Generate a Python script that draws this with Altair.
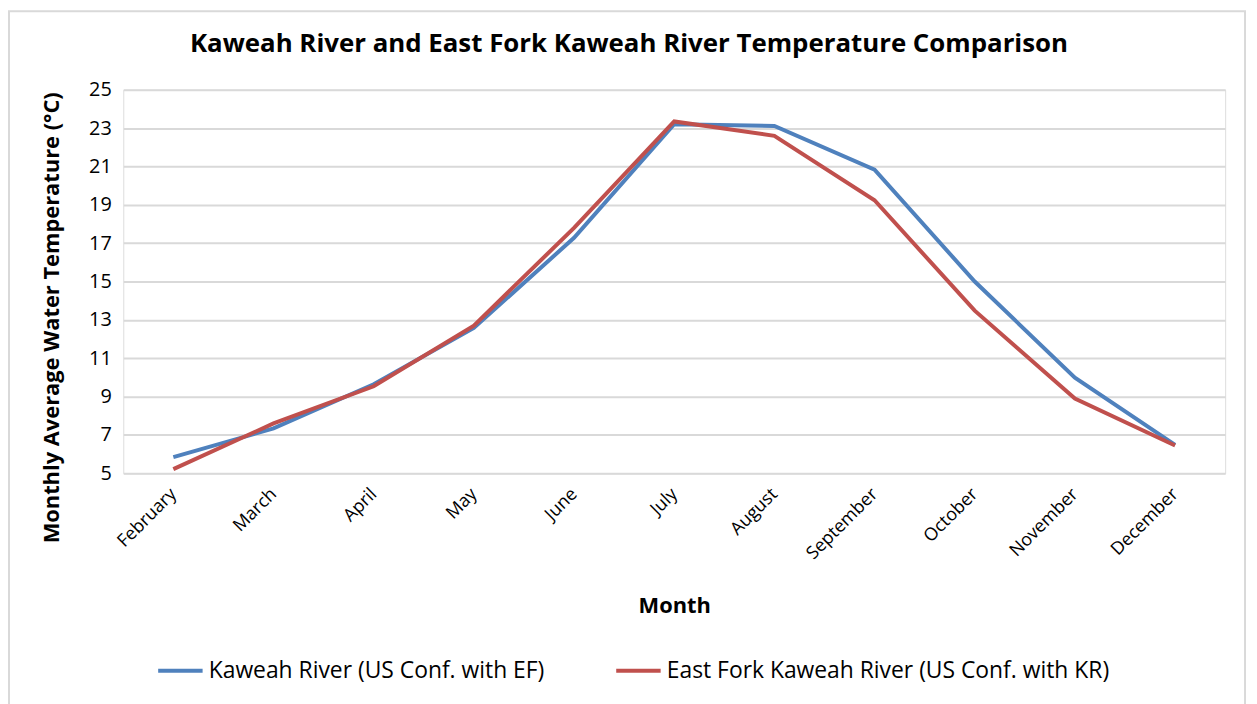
import altair as alt
import pandas as pd

months = ["February", "March", "April", "May", "June", "July", "August",
          "September", "October", "November", "December"]
kaweah = [5.84, 7.34, 9.64, 12.58, 17.28, 23.2, 23.11, 20.83, 15.0, 9.99, 6.48]
east_fork = [5.22, 7.6, 9.54, 12.7, 17.8, 23.35, 22.6, 19.24, 13.48, 8.9, 6.45]
series_names = ["Kaweah River (US Conf. with EF)", "East Fork Kaweah River (US Conf. with KR)"]
colors = ["#4F81BD", "#C0504D"]
y_ticks = [5, 7, 9, 11, 13, 15, 17, 19, 21, 23, 25]
title_text = "Kaweah River and East Fork Kaweah River Temperature Comparison"

rows = []
for m, a, b in zip(months, kaweah, east_fork):
    rows.append({"Month": m, "Series": series_names[0], "Temp": a})
    rows.append({"Month": m, "Series": series_names[1], "Temp": b})
df = pd.DataFrame(rows)

FONT = "Open Sans"
W, H = 1109, 386

frame = alt.Chart(pd.DataFrame({"a": [0]})).mark_rect(
    fill=None, stroke="#d9d9d9", strokeWidth=2, clip=False
).encode(
    x=alt.value(-115), x2=alt.value(1129), y=alt.value(-79), y2=alt.value(640)
)

title = alt.Chart(pd.DataFrame({"t": [title_text]})).mark_text(
    font=FONT, fontSize=26, fontWeight="bold", color="#000000",
    align="center", baseline="middle", clip=False
).encode(text="t:N", x=alt.value(509), y=alt.value(-46))

lines = alt.Chart(df).mark_line(strokeWidth=4, clip=False).encode(
    x=alt.X("Month:N", sort=months, scale=alt.Scale(padding=0.5),
            axis=alt.Axis(title="Month", labelAngle=-45, labelAlign="right",
                          labelBaseline="middle", labelPadding=18, ticks=False,
                          domain=False, grid=False, labelFontSize=18,
                          labelFont=FONT, labelColor="#000000",
                          titleFont=FONT, titleFontSize=22, titleFontWeight="bold",
                          titleColor="#000000", titleY=133, titleBaseline="middle")),
    y=alt.Y("Temp:Q", scale=alt.Scale(domain=[5, 25], nice=False, zero=False),
            axis=alt.Axis(title="Monthly Average Water Temperature (°C)", values=y_ticks,
                          ticks=False, domain=False, gridColor="#d9d9d9", gridWidth=2,
                          labelFontSize=20, labelFont=FONT, labelColor="#000000",
                          labelPadding=12,
                          titleFont=FONT, titleFontSize=22, titleFontWeight="bold",
                          titleColor="#000000", titleX=-72, titleY=229,
                          titleBaseline="middle", titleAlign="center", titleAngle=270)),
    color=alt.Color("Series:N", sort=series_names,
                    scale=alt.Scale(domain=series_names, range=colors),
                    legend=alt.Legend(title=None, orient="none", direction="horizontal",
                                      legendX=33, legendY=560,
                                      symbolType="stroke", symbolStrokeWidth=4,
                                      symbolSize=2000, labelFontSize=23, labelFont=FONT,
                                      labelColor="#000000", columnPadding=64,
                                      labelOffset=4, labelLimit=700)),
)

chart = alt.layer(frame, title, lines).properties(
    width=W, height=H,
    padding={"left": 116, "top": 80, "right": 24, "bottom": 250},
    autosize=alt.AutoSizeParams(type="none"),
).configure_view(stroke="#898989", strokeWidth=1.5).configure(background="white")

chart.save("out.html", embed_options={"renderer": "svg", "actions": False})
